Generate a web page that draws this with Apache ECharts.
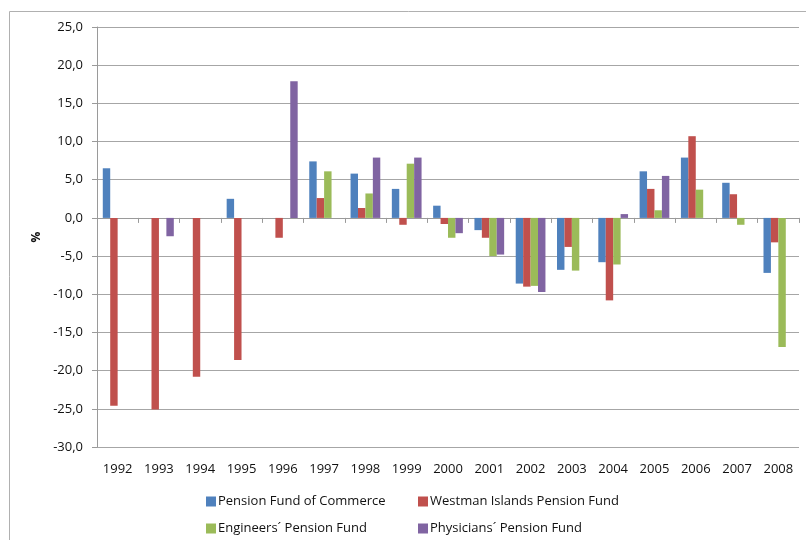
<!DOCTYPE html>
<html lang="en">
<head>
    <meta charset="UTF-8">
    <title>Pension funds returns</title>
    <script src="https://cdn.jsdelivr.net/npm/echarts@6/dist/echarts.min.js"></script>
    <style>
        html, body { margin: 0; padding: 0; background: #fff; }
        #main { width: 806px; height: 540px; }
    </style>
</head>
<body>
    <div id="main"></div>
    <script type="text/javascript">
        // data (%)
        var years = ['1992', '1993', '1994', '1995', '1996', '1997', '1998', '1999', '2000',
                     '2001', '2002', '2003', '2004', '2005', '2006', '2007', '2008'];
        var commerce   = [6.5, null, null, 2.5, null, 7.4, 5.8, 3.8, 1.6, -1.6, -8.6, -6.8, -5.8, 6.1, 7.9, 4.6, -7.2];
        var westman    = [-24.6, -25.1, -20.8, -18.6, -2.6, 2.6, 1.3, -0.9, -0.8, -2.6, -9.0, -3.8, -10.8, 3.8, 10.7, 3.1, -3.2];
        var engineers  = [null, null, null, null, null, 6.1, 3.2, 7.1, -2.6, -5.0, -8.9, -6.9, -6.1, 1.0, 3.7, -0.9, -16.9];
        var physicians = [null, -2.4, null, null, 17.9, null, 7.9, 7.9, -2.0, -4.8, -9.7, null, 0.5, 5.5, null, null, null];
        var seriesNames = ['Pension Fund of Commerce', 'Westman Islands Pension Fund',
                           'Engineers\u00b4 Pension Fund', 'Physicians\u00b4 Pension Fund'];

        var colors = ['#4F81BD', '#C0504D', '#9BBB59', '#8064A2'];
        var fontFam = 'Open Sans';
        var txt = '#111';

        var myChart = echarts.init(document.getElementById('main'));

        // legend: 2 x 2 layout
        var legendPos = [[206, 495], [418, 495], [206, 522], [418, 522]];
        var legends = seriesNames.map(function (n, i) {
            return {
                data: [n],
                left: legendPos[i][0],
                top: legendPos[i][1],
                padding: 0,
                itemWidth: 10,
                itemHeight: 10,
                icon: 'rect',
                textStyle: { fontFamily: fontFam, fontSize: 13, color: txt, padding: [0, 0, 0, -3] }
            };
        });

        var allData = [commerce, westman, engineers, physicians];
        var series = allData.map(function (d, i) {
            return {
                name: seriesNames[i],
                type: 'bar',
                data: d,
                barGap: '0%',
                barCategoryGap: '28%',
                itemStyle: { color: colors[i] }
            };
        });

        var option = {
            animation: false,
            color: colors,
            graphic: [{
                type: 'rect',
                shape: { x: 9.5, y: 11.5, width: 900, height: 700 },
                style: { fill: null, stroke: '#b0b0b0', lineWidth: 1 },
                silent: true
            }],
            legend: legends,
            grid: { left: 97, right: 7, top: 27, bottom: 93 },
            xAxis: [{
                type: 'category',
                data: years,
                axisLine: { onZero: true, lineStyle: { color: '#9a9a9a' } },
                axisTick: { show: true, length: 5, lineStyle: { color: '#9a9a9a' } },
                axisLabel: { show: false }
            }, {
                type: 'category',
                data: years,
                position: 'bottom',
                axisLine: { show: false, onZero: false },
                axisTick: { show: false },
                axisLabel: { fontFamily: fontFam, fontSize: 13, color: txt, margin: 16 }
            }],
            yAxis: {
                type: 'value',
                min: -30,
                max: 25,
                interval: 5,
                name: '%',
                nameLocation: 'middle',
                nameRotate: 90,
                nameGap: 54,
                nameTextStyle: { fontFamily: fontFam, fontSize: 12, fontWeight: 'bold', color: txt },
                axisLine: { show: true, lineStyle: { color: '#9a9a9a' } },
                axisTick: { show: true, length: 5, lineStyle: { color: '#9a9a9a' } },
                axisLabel: {
                    fontFamily: fontFam, fontSize: 13, color: txt, margin: 14,
                    formatter: function (v) { return v.toFixed(1).replace('.', ','); }
                },
                splitLine: { lineStyle: { color: '#a6a6a6' } }
            },
            series: series
        };

        myChart.setOption(option);
    </script>
</body>
</html>
